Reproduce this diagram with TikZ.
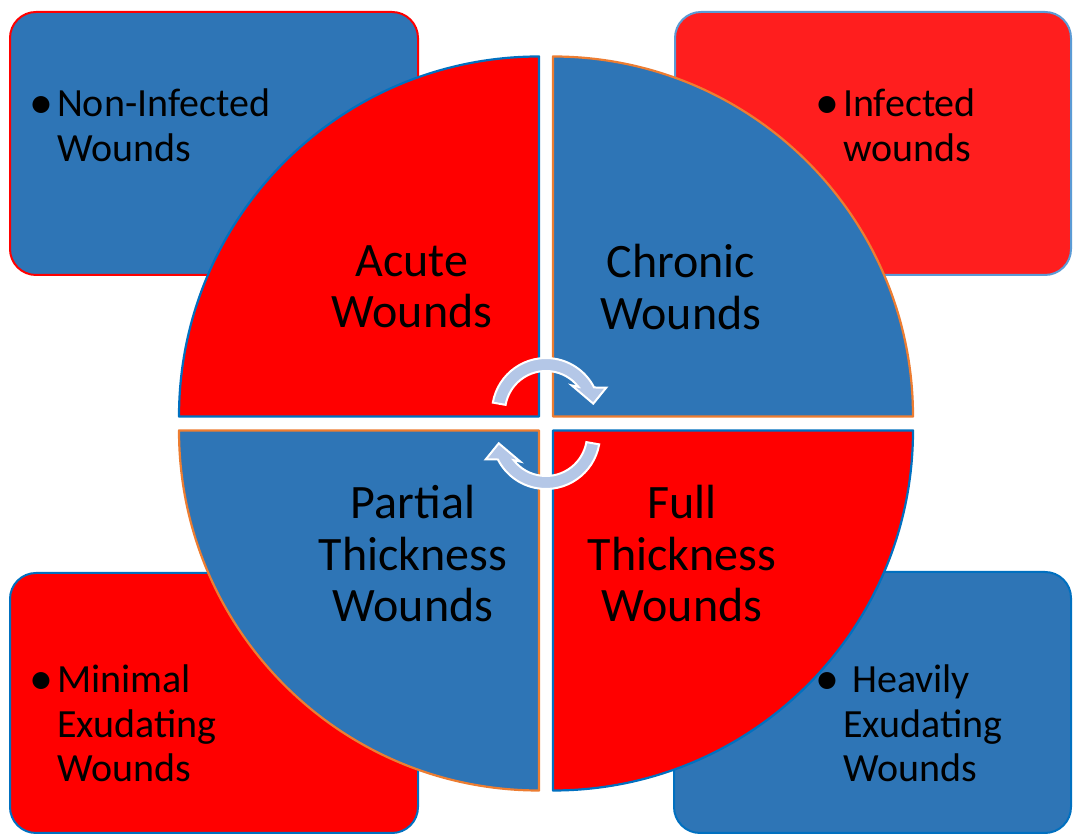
\documentclass[tikz,border=0pt]{standalone}
\usepackage{fontspec}
\setmainfont{Carlito}
\definecolor{wblue}{RGB}{46,117,182}
\definecolor{wred}{RGB}{255,0,0}
\definecolor{wlightred}{RGB}{255,30,30}
\definecolor{wedge}{RGB}{0,112,192}
\definecolor{worange}{RGB}{237,125,49}
\definecolor{wpale}{RGB}{91,155,213}
\definecolor{warrow}{RGB}{180,199,231}
\newcommand{\wbullet}{\raisebox{-2pt}{\scalebox{1.2}{\textbullet}}}
\begin{document}
\begin{tikzpicture}[x=1pt, y=1pt,
  box/.style={rounded corners=26pt, line width=2pt},
  quadrant/.style={line width=2.2pt, line join=round},
  turn/.style={fill=warrow, draw=white, line width=2pt},
  big/.style={font=\fontsize{48}{51.5}\selectfont, align=center},
  small/.style={font=\fontsize{40}{44.5}\selectfont, anchor=base west, inner sep=0pt}]
  \useasboundingbox (0,0) rectangle (1073,834);
  % Corner boxes
  \draw[box, fill=wblue, draw=wred] (10,559) rectangle (418,822);
  \draw[box, fill=wlightred, draw=wpale] (675,559) rectangle (1071,822);
  \draw[box, fill=wred, draw=wedge] (10,1) rectangle (418,261);
  \draw[box, fill=wblue, draw=wedge] (674,1) rectangle (1071,262);
  % Four quarters of the circle (radius 360)
  \draw[quadrant, fill=wred, draw=wedge] (539,417.5) -- ++(-360,0) arc (180:90:360pt) -- cycle;
  \draw[quadrant, fill=wblue, draw=worange] (553,417.5) -- ++(360,0) arc (0:90:360pt) -- cycle;
  \draw[quadrant, fill=wblue, draw=worange] (539,403.5) -- ++(-360,0) arc (180:270:360pt) -- cycle;
  \draw[quadrant, fill=wred, draw=wedge] (553,403.5) -- ++(360,0) arc (0:-90:360pt) -- cycle;
  % Circular arrows in the middle
  \draw[turn, shift={(546,422)}] (170:54) arc (170:27:54pt) -- (22:65) -- (10:48)
    -- (46:37) -- (38:41) arc (38:170:41pt) -- cycle;
  \draw[turn, shift={(546,399)}, rotate=180] (170:54) arc (170:27:54pt) -- (22:65) -- (10:48)
    -- (46:37) -- (38:41) arc (38:170:41pt) -- cycle;
  % Quarter labels
  \node[big] (acute) at (412,547) {Acute\\Wounds};
  \node[big] (chronic) at (681,547) {Chronic\\Wounds};
  \node[big] (partial) at (413,280) {Partial\\Thickness\\Wounds};
  \node[big] (full) at (682,280) {Full\\Thickness\\Wounds};
  % Bullet texts in the boxes
  \node[small] (noninfected) at (29,717)
    {\begin{tabular}[t]{@{}l@{\hspace{4pt}}l@{}}\wbullet & Non-Infected\\ & Wounds\end{tabular}};
  \node[small] (infected) at (815,717)
    {\begin{tabular}[t]{@{}l@{\hspace{4pt}}l@{}}\wbullet & Infected\\ & wounds\end{tabular}};
  \node[small] (minimal) at (29,141)
    {\begin{tabular}[t]{@{}l@{\hspace{4pt}}l@{}}\wbullet & Minimal\\ & Exudating\\ & Wounds\end{tabular}};
  \node[small] (heavily) at (815,141)
    {\begin{tabular}[t]{@{}l@{\hspace{4pt}}l@{}}\wbullet & ~Heavily\\ & Exudating\\ & Wounds\end{tabular}};
\end{tikzpicture}
\end{document}
